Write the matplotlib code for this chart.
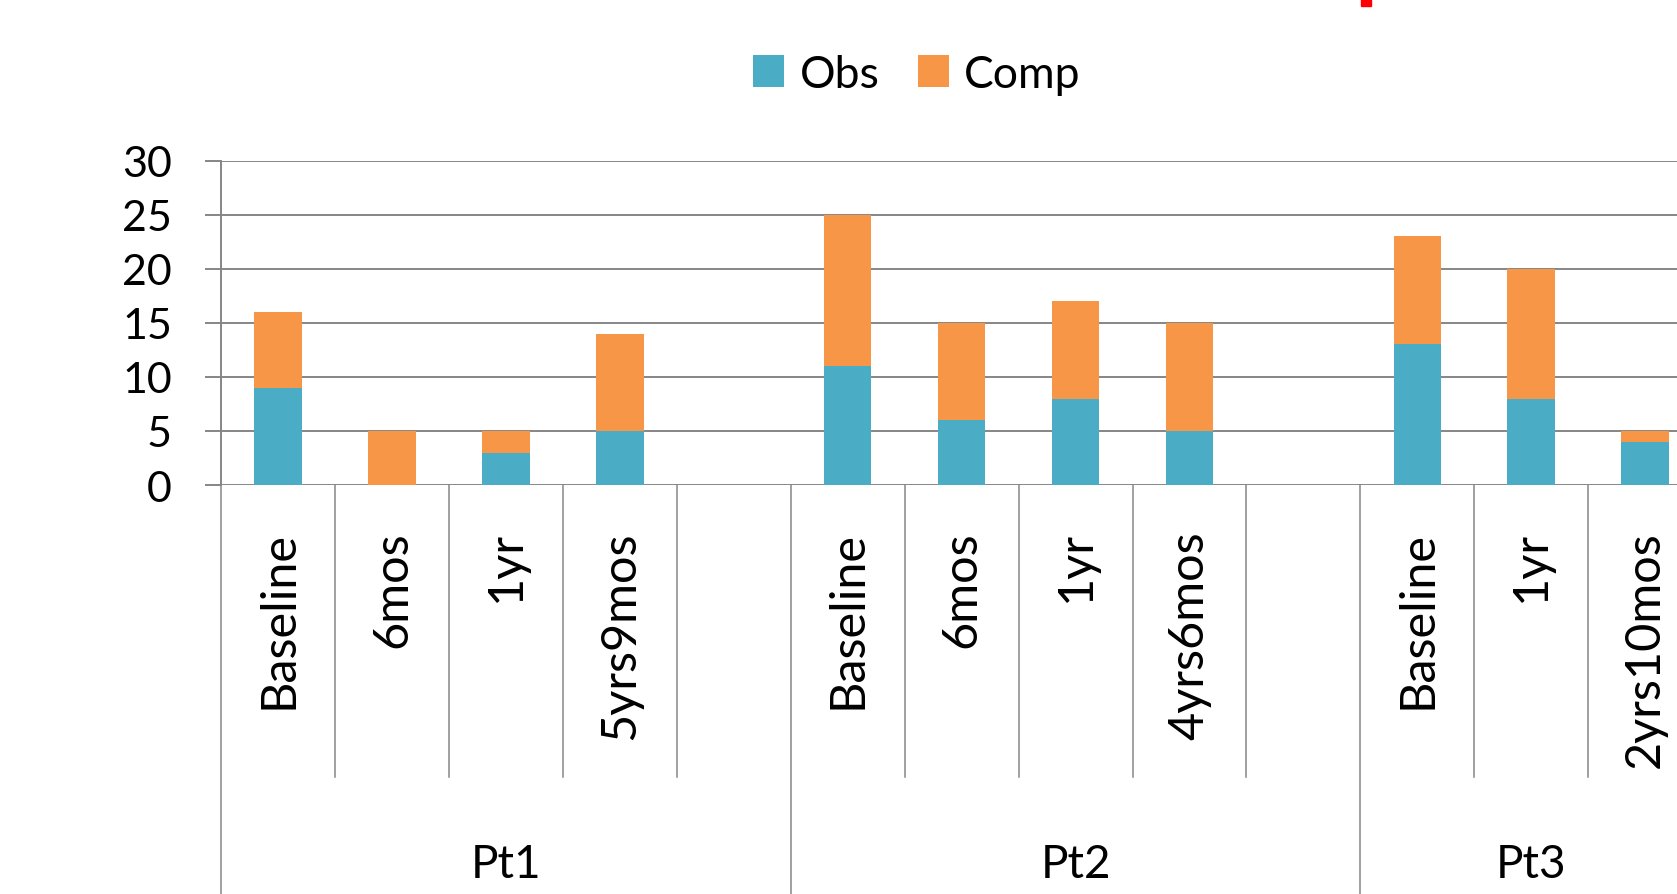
import numpy as np
import matplotlib.pyplot as plt
from matplotlib.patches import Rectangle
from matplotlib.transforms import blended_transform_factory

plt.rcParams['font.family'] = ['Lato', 'DejaVu Sans']

groups = ['Pt1', 'Pt2', 'Pt3']
group_sizes = [5, 5, 3]
labels = ['Baseline', '6mos', '1yr', '5yrs9mos', '',
          'Baseline', '6mos', '1yr', '4yrs6mos', '',
          'Baseline', '1yr', '2yrs10mos']
obs = [9, 0, 3, 5, np.nan,
       11, 6, 8, 5, np.nan,
       13, 8, 4]
comp = [7, 5, 2, 9, np.nan,
        14, 9, 9, 10, np.nan,
        10, 12, 1]

c_obs = '#4BACC6'
c_comp = '#F79646'
grey = '#868686'
fs = 31

fig = plt.figure(figsize=(16.77, 8.95), dpi=100)
ax = fig.add_axes([0.13196, 0.45698, 0.88295, 0.36235])

x = np.arange(len(labels)) + 0.5
ax.bar(x, obs, width=0.417, color=c_obs, label='Obs', zorder=3)
ax.bar(x, comp, width=0.417, bottom=obs, color=c_comp, label='Comp', zorder=3)

ax.set_xlim(0, len(labels))
ax.set_ylim(0, 30)
ax.set_yticks(range(0, 31, 5))
ax.yaxis.grid(True, color=grey, linewidth=1.4)
ax.set_axisbelow(True)
ax.tick_params(axis='y', length=11.5, width=1.4, color=grey, pad=24, labelsize=fs)
ax.set_xticks([])
for s in ['top', 'right', 'bottom']:
    ax.spines[s].set_visible(False)
ax.spines['left'].set_color(grey)
ax.spines['left'].set_linewidth(1.4)

trans = blended_transform_factory(ax.transData, ax.transAxes)

# category labels and separators
for xi, lab in zip(x, labels):
    ax.text(xi, -0.14, lab, rotation=90, ha='center', va='top',
            fontsize=35, transform=trans)

start = 0
for g, n in zip(groups, group_sizes):
    ax.plot([start, start], [0, -1.3], color=grey, lw=1.1,
            transform=trans, clip_on=False)
    for k in range(1, n):
        ax.plot([start + k, start + k], [0, -0.9], color=grey, lw=1.1,
                transform=trans, clip_on=False)
    ax.text(start + n / 2, -1.209, g, ha='center', va='baseline',
            fontsize=33, transform=trans)
    start += n

fig.legend(loc='center', bbox_to_anchor=(917 / 1677, 1 - 75 / 895), ncol=2,
           frameon=False, fontsize=32, handlelength=0.7, handleheight=0.7,
           handletextpad=0.35, columnspacing=0.85)

fig.add_artist(Rectangle((1361 / 1677, 1 - 7 / 895), 10 / 1677, 7 / 895,
                         color='red', transform=fig.transFigure))

fig.savefig('out.png', dpi=100)
